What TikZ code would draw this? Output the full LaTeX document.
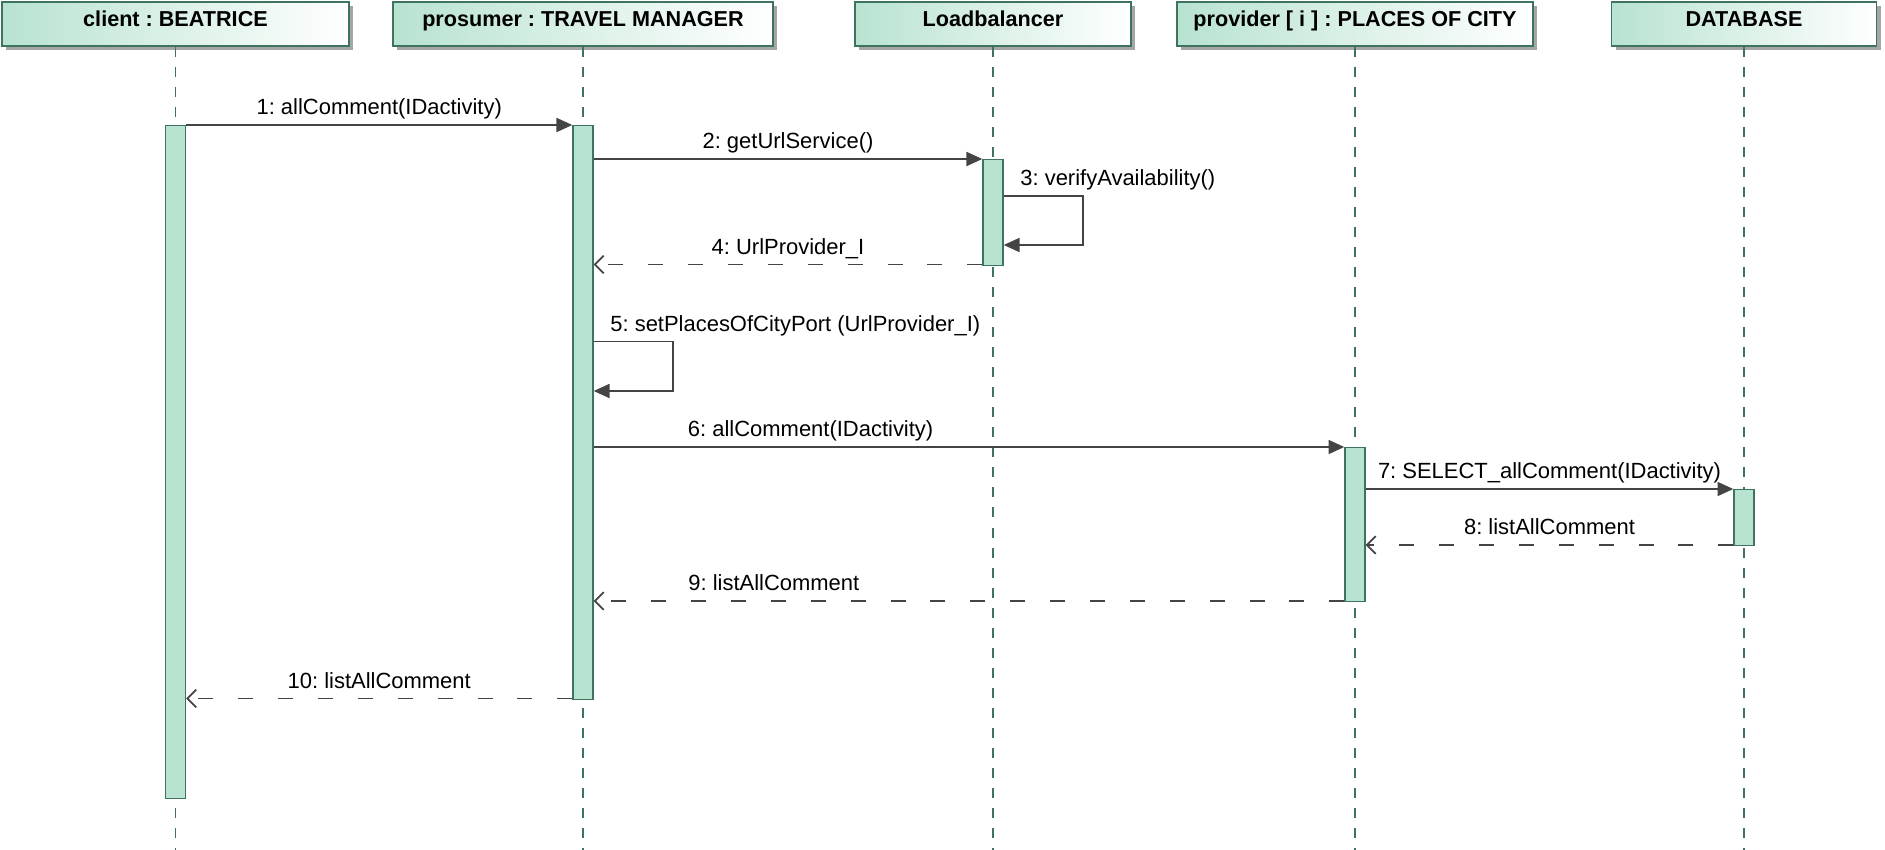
\documentclass[tikz,border=0pt]{standalone}
\usepackage{fontspec}
\setmainfont{Liberation Sans}
\usetikzlibrary{arrows.meta,shadows}
\definecolor{mint}{HTML}{B8E3D0}
\definecolor{pine}{HTML}{3E7360}
\definecolor{ink}{HTML}{444444}
\frenchspacing

\begin{document}
\begin{tikzpicture}[
        x=0.2mm, y=-0.2mm,
        head/.style={draw=pine, line width=0.8pt, left color=mint, right color=white,
          minimum height=8.8mm, inner sep=0pt, text height=0.75em, text depth=0.43em,
          font=\bfseries\fontsize{12.3}{15}\selectfont,
          drop shadow={shadow xshift=0.8mm, shadow yshift=-0.8mm, fill=black!35, opacity=1}},
        lifeline/.style={draw=pine, line width=0.75pt, dash pattern=on 5.7pt off 5.7pt},
        bar/.style={draw=pine, line width=0.8pt, fill=mint, minimum width=4mm, inner sep=0pt, anchor=north},
        call/.style={draw=ink, line width=0.9pt, -{Triangle[length=9pt,width=8pt]}},
        reply/.style={draw=ink, line width=1pt, dash pattern=on 8.5pt off 14.2pt, -{Straight Barb[length=5pt,width=10pt]}},
        msg/.style={text=black, font=\fontsize{12.5}{15}\selectfont, text height=0.73em, text depth=0.21em},
      ]
      \useasboundingbox (0,0) rectangle (1885,850);

      \node[head, minimum width=69.4mm] (client) at (175.5,24) {client : BEATRICE};
      \node[head, minimum width=76mm] (prosumer) at (583,24) {prosumer : TRAVEL MANAGER};
      \node[head, minimum width=55.2mm] (lb) at (993,24) {Loadbalancer};
      \node[head, minimum width=71.2mm] (provider) at (1355,24) {provider [ i ] : PLACES OF CITY};
      \node[head, minimum width=53mm] (db) at (1744,24) {DATABASE};

      \coordinate (bottom) at (0,850);
      \draw[lifeline] (client) -- (client |- bottom);
      \draw[lifeline] (prosumer) -- (prosumer |- bottom);
      \draw[lifeline] (lb) -- (lb |- bottom);
      \draw[lifeline] (provider) -- (provider |- bottom);
      \draw[lifeline] (db) -- (db |- bottom);

      \coordinate (m1) at (0,125);
      \coordinate (m2) at (0,159);
      \coordinate (m3) at (0,196);
      \coordinate (loop3) at (1083,245);
      \coordinate (m4) at (0,264.5);
      \coordinate (m5) at (0,341.5);
      \coordinate (loop5) at (673,391);
      \coordinate (m6) at (0,447);
      \coordinate (m7) at (0,489);
      \coordinate (m8) at (0,545);
      \coordinate (m9) at (0,601);
      \coordinate (m10) at (0,698.5);

      \node[bar, minimum height=134.6mm] (actC) at (client |- m1) {};
      \node[bar, minimum height=114.7mm] (actP) at (prosumer |- m1) {};
      \node[bar, minimum height=21.1mm] (actL) at (lb |- m2) {};
      \node[bar, minimum height=30.8mm] (actV) at (provider |- m6) {};
      \node[bar, minimum height=11.2mm] (actD) at (db |- m7) {};

      \draw[call] (actC.east |- m1) -- (actP.west |- m1) node[midway, above, msg] {1: allComment(IDactivity)};
      \draw[call] (actP.east |- m2) -- (actL.west |- m2) node[midway, above, msg] {2: getUrlService()};
      \draw[call] (actL.east |- m3) node[above right, xshift=2mm, msg] {3: verifyAvailability()} -| (loop3) -- (actL.east |- loop3);
      \draw[reply] (actL.west |- m4) -- (actP.east |- m4) node[midway, above, msg] {4: UrlProvider\_I};
      \draw[call] (actP.east |- m5) node[above right, xshift=2mm, msg] {5: setPlacesOfCityPort (UrlProvider\_I)} -| (loop5) -- (actP.east |- loop5);
      \draw[call] (actP.east |- m6) -- (actV.west |- m6) node[pos=0.289, above, msg] {6: allComment(IDactivity)};
      \draw[call] (actV.east |- m7) -- (actD.west |- m7) node[midway, above, msg] {7: SELECT\_allComment(IDactivity)};
      \draw[reply] (actD.west |- m8) -- (actV.east |- m8) node[midway, above, msg] {8: listAllComment};
      \draw[reply] (actV.west |- m9) -- (actP.east |- m9) node[pos=0.76, above, msg] {9: listAllComment};
      \draw[reply] (actP.west |- m10) -- (actC.east |- m10) node[midway, above, msg] {10: listAllComment};

    \end{tikzpicture}
\end{document}
